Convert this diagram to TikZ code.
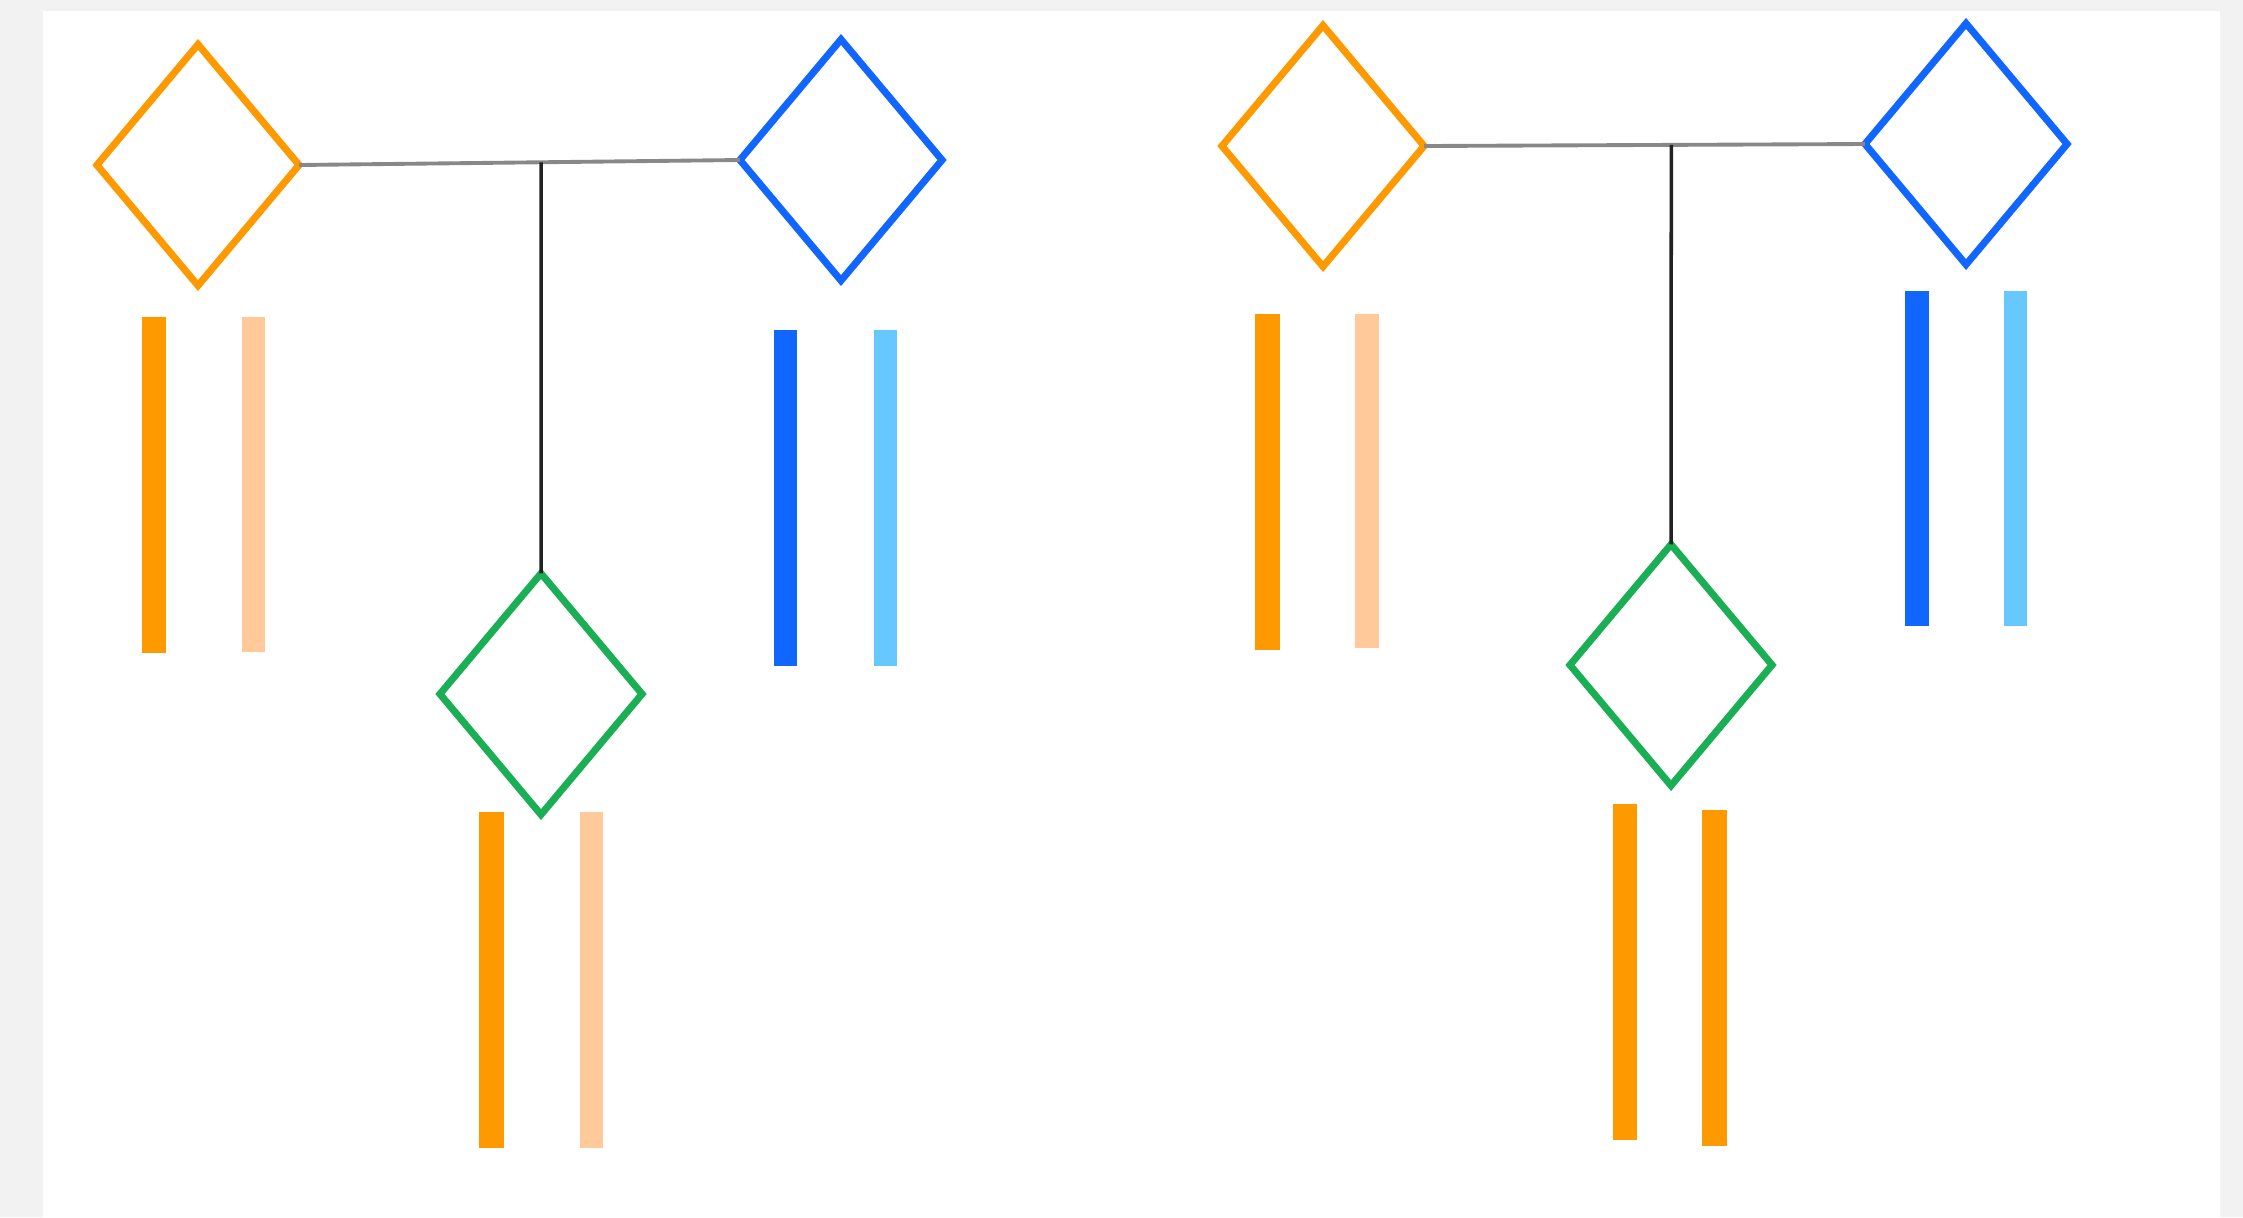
\documentclass[tikz,border=0pt]{standalone}
\usetikzlibrary{shapes.geometric,calc}
\definecolor{bg}{HTML}{F2F2F2}
\definecolor{dorange}{HTML}{FF9900}
\definecolor{peach}{HTML}{FFC999}
\definecolor{dblue}{HTML}{1166FF}
\definecolor{lblue}{HTML}{66C8FF}
\definecolor{dgreen}{HTML}{1AAF54}
\definecolor{hline}{HTML}{888888}
\definecolor{vline}{HTML}{222222}
\tikzset{
  gem/.style={diamond, draw=#1, line width=2pt, minimum width=2.02cm, minimum height=2.41cm, inner sep=0pt, outer sep=0pt, fill=white},
  tie/.style={draw=hline, line width=1.1pt},
  stem/.style={draw=vline, line width=1pt},
}
\begin{document}
\begin{tikzpicture}[x=0.01cm, y=-0.01cm]
\useasboundingbox (0,0) rectangle (2243,1217);
\fill[bg] (0,0) rectangle (2243,1217);
\fill[white] (43,11) rectangle (2220,1217);

% left group
\node[gem=dorange] (o1) at (198,165) {};
\node[gem=dblue] (b1) at (841,160) {};
\node[gem=dgreen] (g1) at (541,694) {};
\draw[tie] (o1.east) -- (b1.west);
\coordinate (j1) at (intersection of o1.east--b1.west and g1.north--g1.south);
\draw[stem] (j1) -- (g1.north);

\fill[dorange] (142,317) rectangle (166,653);
\fill[peach] (242,317) rectangle (265,652);
\fill[dblue] (774,330) rectangle (797,666);
\fill[lblue] (874,330) rectangle (897,666);
\fill[dorange] (479,812) rectangle (504,1148);
\fill[peach] (580,812) rectangle (603,1148);

% right group
\node[gem=dorange] (o2) at (1323,146) {};
\node[gem=dblue] (b2) at (1966,144) {};
\node[gem=dgreen] (g2) at (1671,665) {};
\draw[tie] (o2.east) -- (b2.west);
\coordinate (j2) at (intersection of o2.east--b2.west and g2.north--g2.south);
\draw[stem] (j2) -- (g2.north);

\fill[dorange] (1255,314) rectangle (1280,650);
\fill[peach] (1355,314) rectangle (1379,648);
\fill[dblue] (1905,291) rectangle (1929,626);
\fill[lblue] (2004,291) rectangle (2027,626);
\fill[dorange] (1613,804) rectangle (1637,1140);
\fill[dorange] (1702,810) rectangle (1727,1146);
\end{tikzpicture}
\end{document}
